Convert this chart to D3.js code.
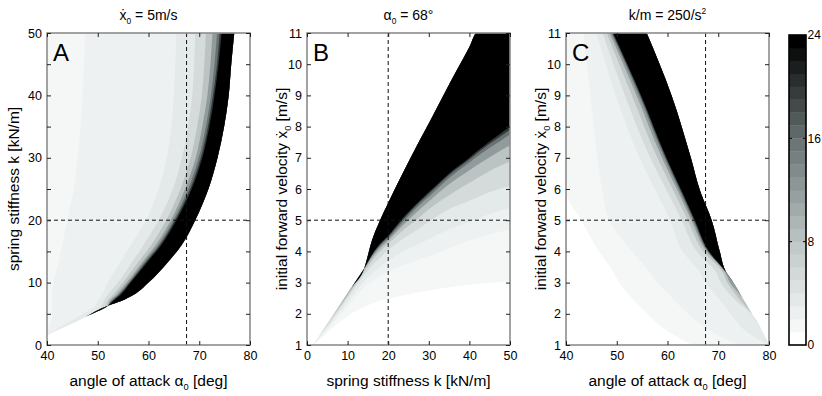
<!DOCTYPE html>
<html>
<head>
<meta charset="utf-8">
<script src="https://cdn.jsdelivr.net/npm/d3@7"></script>
<style>
  body { margin: 0; background: #fff; }
  svg text { font-family: "Liberation Sans", Arial, sans-serif; fill: #000; }
</style>
</head>
<body>
<svg id="chart" width="822" height="396"></svg>
<script>
// contour levels (number of steps), drawn from outside in
const levels = [1, 2, 3, 5, 8, 12, 16, 20, 24];
const barTicks = [0, 8, 16, 24];

// A: x = angle of attack [deg], y = spring stiffness k [kN/m]
// for each k, level region spans from its left edge to rightA
const kGridA = [1.6, 3, 4.5, 6.3, 7, 8, 10, 13, 16, 20, 25, 30, 35, 40, 45, 50];
const rightA = [40, 43.7, 47.5, 52, 54.5, 57, 60, 63.5, 66.5, 69.2, 71.8, 73.6, 74.9, 75.8, 76.3, 76.9];
const leftA = [
  [40, 40, 40, 40, 40, 40, 40, 40, 40, 40, 40, 40, 40, 40, 40, 40],
  [null, 40.5, 41, 41, 41, 41, 41.3, 42.2, 43, 44, 45.3, 46, 46.6, 47, 47.3, 47.5],
  [null, 42.8, 46, 49.5, 50, 50.8, 52, 54.2, 56.5, 59.5, 62, 63.6, 64.5, 65, 65.3, 65.5],
  [null, null, 47.5, 50.8, 51.2, 52, 54, 56.5, 59, 62, 64.8, 66.6, 67.8, 68.6, 69, 69.2],
  [null, null, null, 51.6, 51.9, 53, 55, 57.7, 60.5, 63.5, 66.3, 68.3, 69.6, 70.5, 71, 71.3],
  [null, null, null, null, 52.3, 53.6, 55.7, 58.5, 61.4, 64.4, 67.2, 69.3, 70.6, 71.6, 72.2, 72.6],
  [null, null, null, null, 52.6, 54, 56.1, 58.9, 61.9, 64.9, 67.8, 69.9, 71.3, 72.3, 73, 73.5],
  [null, null, null, null, 52.8, 54.2, 56.3, 59.2, 62.2, 65.2, 68.2, 70.3, 71.7, 72.7, 73.5, 74],
  [null, null, null, 52, 53, 54.5, 56.5, 59.5, 62.5, 65.5, 68.5, 70.6, 72, 73, 73.8, 74.4]
];

// B: x = spring stiffness k [kN/m], y = initial forward velocity [m/s]
// for each k, level region spans from its lower edge up to upperB
const kGridB = [1.5, 3, 5, 8, 11, 14.1, 16, 18, 20, 23, 27.8, 30, 35, 40, 41.8, 45, 50];
const upperB = [1.0, 1.29, 1.68, 2.27, 2.85, 3.46, 4.35, 5.0, 5.55, 6.35, 7.57, 8.1, 9.35, 10.55, 11, 11, 11];
const lowerB = [
  [1.0, 1.17, 1.4, 1.73, 2.02, 2.22, 2.33, 2.42, 2.48, 2.57, 2.7, 2.75, 2.85, 2.93, 2.95, 2.99, 3.03],
  [null, 1.22, 1.5, 1.95, 2.4, 2.85, 3.05, 3.2, 3.35, 3.52, 3.75, 3.85, 4.1, 4.35, 4.42, 4.55, 4.69],
  [null, 1.25, 1.56, 2.05, 2.55, 3.05, 3.3, 3.5, 3.7, 3.95, 4.25, 4.4, 4.7, 4.95, 5.04, 5.2, 5.4],
  [null, null, 1.62, 2.15, 2.7, 3.25, 3.55, 3.8, 4.05, 4.35, 4.75, 4.95, 5.35, 5.62, 5.72, 5.9, 6.1],
  [null, null, null, 2.2, 2.77, 3.35, 3.7, 4.0, 4.25, 4.6, 5.1, 5.35, 5.8, 6.2, 6.34, 6.58, 6.88],
  [null, null, null, null, 2.82, 3.42, 3.8, 4.1, 4.35, 4.75, 5.35, 5.6, 6.15, 6.6, 6.76, 7.02, 7.4],
  [null, null, null, null, null, 3.45, 3.85, 4.17, 4.42, 4.85, 5.5, 5.75, 6.35, 6.85, 7.03, 7.32, 7.75],
  [null, null, null, null, null, 3.46, 3.88, 4.22, 4.48, 4.93, 5.58, 5.85, 6.45, 6.95, 7.14, 7.45, 7.9],
  [null, null, null, null, null, 3.46, 3.9, 4.25, 4.5, 4.98, 5.63, 5.9, 6.5, 7.0, 7.2, 7.52, 8.0]
];

// C: x = angle of attack [deg], y = initial forward velocity [m/s]
const vGridC = [1, 1.5, 2, 2.5, 3, 3.35, 4, 5, 5.9, 7, 9, 11];
const rightC = [80, 78.5, 76.6, 74.8, 73, 71.5, 70.3, 68.7, 66.5, 64.6, 60.8, 55.9];
const leftC = [
  [65, 59.5, 56, 53, 50.5, 49.3, 46.5, 43, 40, 40, 40, 40],
  [74, 68, 64, 61, 58, 56.5, 53, 48.5, 47.2, 46.2, 44.8, 43.4],
  [null, 75, 72.5, 70, 67.5, 66.3, 63, 60.5, 57.8, 54.5, 49.8, 46],
  [null, null, 76.5, 73, 70.5, 69.5, 65.8, 62.8, 60, 56.6, 51.6, 47.2],
  [null, null, null, 74, 71.8, 70.8, 67.1, 64, 61.3, 58, 53, 48],
  [null, null, null, null, 72.3, 71.3, 67.7, 64.7, 62.1, 58.9, 53.9, 48.6],
  [null, null, null, null, null, 71.4, 67.95, 65.05, 62.5, 59.4, 54.4, 48.95],
  [null, null, null, null, null, 71.45, 68.1, 65.25, 62.75, 59.65, 54.65, 49.15],
  [null, null, null, null, null, 71.5, 68.2, 65.4, 62.9, 59.8, 54.8, 49.3]
];

// reference (dashed) lines
const refAngle = 67.5;
const refK = 20;
const refV = 5;

const svg = d3.select("#chart");
const plotTop = 33, plotBottom = 345;

const cmap = d3.scaleLinear()
  .domain([0, 1, 2, 3, 5, 8, 16, 24])
  .range(["#ffffff", "#f5f7f7", "#edf1f1", "#e4e9e9", "#d5dbdb", "#bcc3c3", "#687272", "#000000"]);

function rich(textSel, parts, fs) {
  let shift = 0;
  parts.forEach(([s, kind]) => {
    const target = kind === "sub" ? fs * 0.25 : kind === "sup" ? -fs * 0.42 : 0;
    const t = textSel.append("tspan").text(s);
    if (target !== shift) t.attr("dy", target - shift);
    if (kind) t.attr("font-size", fs * 0.6);
    shift = target;
  });
}

const panels = [
  {
    id: "A", left: 47, right: 250,
    xDomain: [40, 80], yDomain: [0, 50],
    xTicks: d3.range(40, 81, 10), yTicks: d3.range(0, 51, 5), yLabelEvery: 10,
    title: [["ẋ"], ["0", "sub"], [" = 5m/s"]],
    xLabel: [["angle of attack α"], ["0", "sub"], [" [deg]"]],
    yLabel: [["spring stiffness k [kN/m]"]], yLabelX: 19,
    horizontal: true, grid: kGridA, edge: rightA, lows: leftA,
    refX: refAngle, refY: refK
  },
  {
    id: "B", left: 307, right: 510,
    xDomain: [0, 50], yDomain: [1, 11],
    xTicks: d3.range(0, 51, 10), yTicks: d3.range(1, 12, 1), yLabelEvery: 1,
    title: [["α"], ["0", "sub"], [" = 68°"]],
    xLabel: [["spring stiffness k [kN/m]"]],
    yLabel: [["initial forward velocity ẋ"], ["0", "sub"], [" [m/s]"]], yLabelX: 287,
    horizontal: false, grid: kGridB, edge: upperB, lows: lowerB,
    refX: refK, refY: refV
  },
  {
    id: "C", left: 566, right: 769,
    xDomain: [40, 80], yDomain: [1, 11],
    xTicks: d3.range(40, 81, 10), yTicks: d3.range(1, 12, 1), yLabelEvery: 1,
    title: [["k/m = 250/s"], ["2", "sup"]],
    xLabel: [["angle of attack α"], ["0", "sub"], [" [deg]"]],
    yLabel: [["initial forward velocity ẋ"], ["0", "sub"], [" [m/s]"]], yLabelX: 546,
    horizontal: true, grid: vGridC, edge: rightC, lows: leftC,
    refX: refAngle, refY: refV
  }
];

const defs = svg.append("defs");

panels.forEach(p => {
  const x = d3.scaleLinear().domain(p.xDomain).range([p.left, p.right]);
  const y = d3.scaleLinear().domain(p.yDomain).range([plotBottom, plotTop]);
  const g = svg.append("g");

  defs.append("clipPath").attr("id", "clip" + p.id)
    .append("rect")
    .attr("x", p.left).attr("y", plotTop)
    .attr("width", p.right - p.left).attr("height", plotBottom - plotTop);

  const fills = g.append("g").attr("clip-path", `url(#clip${p.id})`);
  const idx = d3.range(p.grid.length);

  levels.forEach((lev, j) => {
    const lo = p.lows[j];
    const loVal = i => (lo[i] == null ? p.edge[i] : lo[i]);
    let area;
    if (p.horizontal) {
      area = d3.area()
        .curve(d3.curveMonotoneY)
        .y(i => y(p.grid[i]))
        .x0(i => x(loVal(i)))
        .x1(i => x(p.edge[i]));
    } else {
      area = d3.area()
        .curve(d3.curveMonotoneX)
        .x(i => x(p.grid[i]))
        .y0(i => y(loVal(i)))
        .y1(i => y(p.edge[i]));
    }
    fills.append("path")
      .attr("d", area(idx))
      .attr("fill", cmap(lev));
  });

  // dashed reference lines
  fills.append("line")
    .attr("x1", x(p.refX)).attr("x2", x(p.refX))
    .attr("y1", plotTop).attr("y2", plotBottom)
    .attr("stroke", "#111").attr("stroke-width", 1).attr("stroke-dasharray", "4,3");
  fills.append("line")
    .attr("x1", p.left).attr("x2", p.right)
    .attr("y1", y(p.refY)).attr("y2", y(p.refY))
    .attr("stroke", "#111").attr("stroke-width", 1).attr("stroke-dasharray", "4,3");

  // frame
  g.append("rect")
    .attr("x", p.left).attr("y", plotTop)
    .attr("width", p.right - p.left).attr("height", plotBottom - plotTop)
    .attr("fill", "none").attr("stroke", "#8c8c8c").attr("stroke-width", 1.6);

  const tickStyle = sel => {
    sel.select(".domain").remove();
    sel.selectAll(".tick line").attr("stroke", "#222");
    sel.selectAll(".tick text").attr("font-size", 12.5).attr("fill", "#000")
      .style("font-family", '"Liberation Sans", Arial, sans-serif');
  };

  g.append("g").attr("transform", `translate(0,${plotBottom})`)
    .call(d3.axisBottom(x).tickValues(p.xTicks).tickSize(-4).tickPadding(6).tickFormat(d3.format("d")))
    .call(tickStyle);
  g.append("g").attr("transform", `translate(0,${plotTop})`)
    .call(d3.axisTop(x).tickValues(p.xTicks).tickSize(-4).tickFormat(""))
    .call(tickStyle);
  g.append("g").attr("transform", `translate(${p.left},0)`)
    .call(d3.axisLeft(y).tickValues(p.yTicks).tickSize(-4).tickPadding(5)
      .tickFormat(d => (d % p.yLabelEvery === 0 ? d : "")))
    .call(tickStyle);
  g.append("g").attr("transform", `translate(${p.right},0)`)
    .call(d3.axisRight(y).tickValues(p.yTicks).tickSize(-4).tickFormat(""))
    .call(tickStyle);

  // texts
  const cx = (p.left + p.right) / 2;
  rich(g.append("text").attr("x", cx).attr("y", 20).attr("text-anchor", "middle")
    .attr("font-size", 14), p.title, 14);
  rich(g.append("text").attr("x", cx).attr("y", 386).attr("text-anchor", "middle")
    .attr("font-size", 15.5), p.xLabel, 15.5);
  rich(g.append("text")
    .attr("transform", `translate(${p.yLabelX},${(plotTop + plotBottom) / 2}) rotate(-90)`)
    .attr("text-anchor", "middle").attr("font-size", 15.5), p.yLabel, 15.5);
  g.append("text").attr("x", p.left + 6).attr("y", 61)
    .attr("font-size", 24).text(p.id);
});

// colour bar
const barX = 789, barW = 17;
const cy = d3.scaleLinear().domain([0, 24]).range([plotBottom, 35]);
const bar = svg.append("g");
d3.range(24).forEach(i => {
  bar.append("rect")
    .attr("x", barX).attr("y", cy(i + 1))
    .attr("width", barW).attr("height", cy(i) - cy(i + 1) + 0.3)
    .attr("fill", cmap(i * 24 / 23));
});
bar.append("rect")
  .attr("x", barX).attr("y", cy(24)).attr("width", barW).attr("height", cy(0) - cy(24))
  .attr("fill", "none").attr("stroke", "#000").attr("stroke-width", 1.6);
bar.append("g").attr("transform", `translate(${barX + barW},0)`)
  .call(d3.axisRight(cy).tickValues(barTicks).tickSize(0).tickPadding(1.5))
  .call(sel => {
    sel.select(".domain").remove();
    sel.selectAll(".tick text").attr("font-size", 12)
      .style("font-family", '"Liberation Sans", Arial, sans-serif');
  });
[8, 16].forEach(v => {
  bar.append("line").attr("x1", barX).attr("x2", barX + 3)
    .attr("y1", cy(v)).attr("y2", cy(v)).attr("stroke", "#000");
  bar.append("line").attr("x1", barX + barW - 3).attr("x2", barX + barW)
    .attr("y1", cy(v)).attr("y2", cy(v)).attr("stroke", "#000");
});
</script>
</body>
</html>
